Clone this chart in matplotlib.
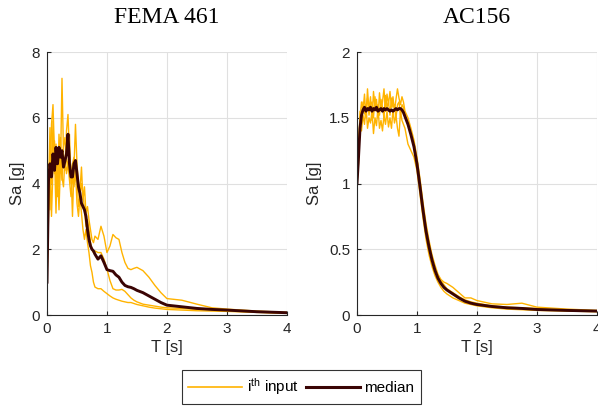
import matplotlib
matplotlib.use("Agg")
import matplotlib.pyplot as plt
from matplotlib.lines import Line2D

plt.rcParams["font.family"] = "Liberation Sans"
plt.rcParams["mathtext.fontset"] = "custom"
plt.rcParams["mathtext.rm"] = "Liberation Sans"
plt.rcParams["mathtext.it"] = "Liberation Sans"

# Periods (s), shared by all spectra
T = [0.00, 0.025, 0.05, 0.075, 0.10, 0.125, 0.15, 0.175, 0.20, 0.225, 0.25,
     0.275, 0.30, 0.325, 0.35, 0.375, 0.40, 0.425, 0.45, 0.475, 0.50, 0.525,
     0.55, 0.575, 0.60, 0.625, 0.65, 0.675, 0.70, 0.725, 0.75, 0.775, 0.80,
     0.85, 0.90, 0.95, 1.00, 1.05, 1.10, 1.15, 1.20, 1.25, 1.30, 1.35, 1.40,
     1.45, 1.50, 1.60, 1.70, 1.80, 1.90, 2.00, 2.25, 2.50, 2.75, 3.00, 3.50,
     4.00]

# FEMA 461 spectra (Sa in g)
fema_in1 = [1.0, 3.8, 5.7, 4.0, 5.9, 4.3, 5.2, 3.6, 5.5, 4.5, 7.2,
            4.9, 4.4, 5.6, 6.1, 4.9, 4.4, 3.0, 4.5, 5.8, 4.6, 4.0,
            3.8, 4.5, 3.5, 3.9, 3.1, 3.3, 2.9, 2.6, 2.3, 2.2, 2.4,
            2.3, 2.7, 2.4, 1.9, 2.1, 2.45, 2.35, 2.3, 1.9, 1.6, 1.42, 1.38,
            1.42, 1.45, 1.35, 1.15, 0.9, 0.68, 0.5, 0.45, 0.33, 0.22, 0.18, 0.12,
            0.08]
fema_in2 = [1.0, 4.6, 3.2, 5.8, 6.4, 4.9, 3.1, 5.0, 3.9, 5.4, 4.1,
            5.1, 5.4, 4.7, 4.5, 5.5, 4.0, 4.6, 4.8, 4.2, 4.3, 3.3,
            3.6, 4.0, 3.7, 3.2, 2.7, 2.9, 2.6, 2.2, 2.0, 1.9, 1.95,
            1.9, 1.9, 1.7, 1.4, 1.05, 0.8, 0.76, 0.76, 0.78, 0.72, 0.62, 0.52,
            0.45, 0.4, 0.33, 0.3, 0.27, 0.24, 0.22, 0.2, 0.17, 0.15, 0.13, 0.09,
            0.06]
fema_in3 = [1.0, 3.0, 4.8, 3.0, 4.5, 5.3, 4.0, 4.4, 3.2, 4.6, 4.2,
            3.9, 4.8, 4.3, 4.6, 4.1, 3.6, 4.2, 3.9, 4.4, 3.4, 3.0,
            3.6, 3.1, 2.6, 2.3, 2.6, 2.2, 1.9, 1.5, 1.3, 1.0, 0.85,
            0.8, 0.8, 0.72, 0.65, 0.58, 0.52, 0.48, 0.45, 0.42, 0.4, 0.38, 0.38,
            0.35, 0.32, 0.28, 0.24, 0.21, 0.19, 0.17, 0.15, 0.13, 0.12, 0.11, 0.08,
            0.05]
fema_median = [1.0, 4.1, 4.6, 4.2, 4.9, 4.4, 5.1, 4.6, 5.1, 4.8, 5.0,
               4.5, 4.7, 4.9, 5.5, 4.6, 4.2, 4.2, 4.6, 4.7, 4.3, 3.9,
               3.7, 3.4, 3.3, 3.2, 3.0, 2.6, 2.3, 2.1, 2.0, 1.95, 1.85,
               1.7, 1.8, 1.6, 1.38, 1.35, 1.33, 1.22, 1.15, 1.0, 0.9, 0.86, 0.84,
               0.8, 0.75, 0.68, 0.58, 0.48, 0.38, 0.3, 0.25, 0.2, 0.17, 0.15, 0.1,
               0.07]

# AC156 spectra (Sa in g)
ac_in1 = [0.97, 1.3, 1.5, 1.62, 1.55, 1.68, 1.5, 1.72, 1.55, 1.66, 1.48,
          1.7, 1.58, 1.64, 1.5, 1.69, 1.56, 1.62, 1.72, 1.55, 1.68, 1.6,
          1.7, 1.58, 1.66, 1.55, 1.64, 1.72, 1.65, 1.6, 1.66, 1.62, 1.55,
          1.5, 1.42, 1.33, 1.2, 1.04, 0.86, 0.7, 0.57, 0.46, 0.38, 0.31, 0.27,
          0.25, 0.24, 0.21, 0.17, 0.13, 0.13, 0.11, 0.085, 0.08, 0.09, 0.06, 0.045,
          0.035]
ac_in2 = [1.02, 1.25, 1.45, 1.4, 1.52, 1.45, 1.6, 1.42, 1.5, 1.46, 1.55,
          1.38, 1.5, 1.44, 1.58, 1.42, 1.48, 1.4, 1.52, 1.45, 1.55, 1.43,
          1.5, 1.42, 1.56, 1.46, 1.52, 1.42, 1.36, 1.55, 1.48, 1.45, 1.42,
          1.3, 1.25, 1.2, 1.1, 0.92, 0.74, 0.58, 0.46, 0.37, 0.3, 0.25, 0.21,
          0.18, 0.16, 0.13, 0.11, 0.09, 0.08, 0.07, 0.055, 0.045, 0.04, 0.035, 0.03,
          0.025]
ac_in3 = [1.0, 1.15, 1.55, 1.5, 1.62, 1.53, 1.58, 1.65, 1.52, 1.6, 1.62,
          1.5, 1.66, 1.55, 1.6, 1.52, 1.64, 1.58, 1.5, 1.67, 1.58, 1.62,
          1.52, 1.65, 1.58, 1.6, 1.5, 1.6, 1.62, 1.52, 1.6, 1.58, 1.52,
          1.47, 1.38, 1.3, 1.18, 1.0, 0.82, 0.66, 0.53, 0.43, 0.35, 0.29, 0.26,
          0.23, 0.2, 0.17, 0.14, 0.115, 0.1, 0.09, 0.07, 0.06, 0.055, 0.05, 0.04,
          0.03]
ac_median = [1.0, 1.2, 1.42, 1.52, 1.56, 1.58, 1.55, 1.57, 1.56, 1.58, 1.55,
             1.57, 1.56, 1.58, 1.55, 1.56, 1.57, 1.55, 1.57, 1.56, 1.57, 1.56,
             1.55, 1.56, 1.55, 1.56, 1.57, 1.56, 1.57, 1.57, 1.56, 1.54, 1.51,
             1.45, 1.37, 1.28, 1.15, 0.98, 0.8, 0.64, 0.52, 0.42, 0.34, 0.28, 0.24,
             0.21, 0.19, 0.16, 0.13, 0.105, 0.09, 0.08, 0.065, 0.055, 0.05, 0.042,
             0.035, 0.03]

panels = [
    ("FEMA 461", [fema_in1, fema_in2, fema_in3], fema_median, 8, [0, 2, 4, 6, 8], ["0", "2", "4", "6", "8"]),
    ("AC156", [ac_in1, ac_in2, ac_in3], ac_median, 2, [0, 0.5, 1, 1.5, 2], ["0", "0.5", "1", "1.5", "2"]),
]

c_input = "#FFB300"
c_median = "#3A0404"
c_text = "#262626"

fig = plt.figure(figsize=(5.98, 4.09), dpi=100)
axes = [fig.add_axes([0.0786, 0.2298, 0.401, 0.643]),
        fig.add_axes([0.597, 0.2298, 0.401, 0.643])]

for ax, (title, inputs, median, ymax, yticks, ylabels) in zip(axes, panels):
    for s in inputs:
        ax.plot(T, s, color=c_input, lw=1.0)
    ax.plot(T, median, color=c_median, lw=2.1)
    ax.set_xlim(0, 4)
    ax.set_ylim(0, ymax)
    ax.set_xticks([0, 1, 2, 3, 4])
    ax.set_yticks(yticks)
    ax.set_yticklabels(ylabels)
    ax.grid(True, color="#e0e0e0", lw=0.8)
    ax.set_axisbelow(True)
    for side in ["top", "right"]:
        ax.spines[side].set_visible(False)
    for side in ["left", "bottom"]:
        ax.spines[side].set_color(c_text)
        ax.spines[side].set_linewidth(0.8)
    ax.tick_params(direction="in", length=3, width=0.8, colors=c_text,
                   labelsize=11, pad=5)
    ax.set_xlabel("T [s]", fontsize=12, color=c_text, labelpad=3)
    ax.set_ylabel("Sa [g]", fontsize=12, color=c_text, labelpad=5)
    ax.set_title(title, fontsize=17, family="Liberation Serif", color="black", pad=21)

handles = [Line2D([], [], color=c_input, lw=1.2),
           Line2D([], [], color=c_median, lw=2.2)]
leg = fig.legend(handles, [r"i$^{\rm th}$ input", "median"], ncol=2,
                 loc="center", bbox_to_anchor=(0.504, 0.054), frameon=True,
                 fancybox=False, edgecolor="black", fontsize=11,
                 handlelength=3.5, columnspacing=0.5, handletextpad=0.3,
                 borderpad=0.45)
leg.get_frame().set_linewidth(0.8)

fig.savefig("out.png", dpi=100)
